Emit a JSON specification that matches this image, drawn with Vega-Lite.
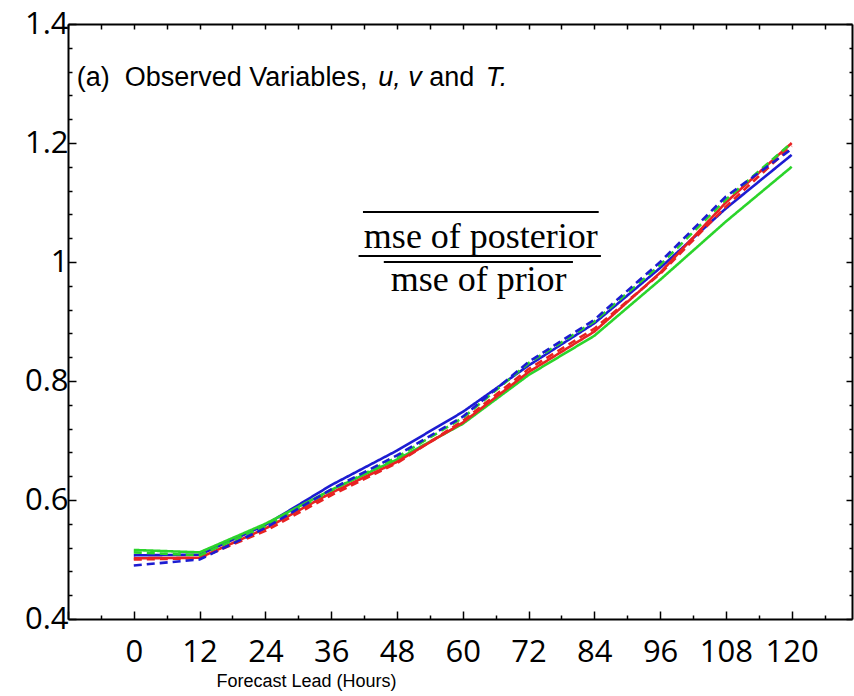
{
  "$schema": "https://vega.github.io/schema/vega-lite/v6.json",
  "width": 784,
  "height": 595,
  "autosize": {"type": "none"},
  "padding": {"left": 68, "top": 24, "right": 2, "bottom": 77},
  "background": "white",
  "config": {
    "view": {"stroke": null},
    "axis": {
      "domainColor": "black",
      "domainWidth": 2,
      "tickColor": "black",
      "tickWidth": 1.5,
      "grid": false,
      "labelColor": "black",
      "labelFont": "Open Sans",
      "labelFontSize": 31,
      "titleFont": "Liberation Sans",
      "titleFontWeight": "normal",
      "titleColor": "black"
    }
  },
  "datasets": {
    "series": [
      {"lead": 0, "value": 0.507, "group": "1", "style": "solid"},
      {"lead": 12, "value": 0.508, "group": "1", "style": "solid"},
      {"lead": 24, "value": 0.558, "group": "1", "style": "solid"},
      {"lead": 36, "value": 0.625, "group": "1", "style": "solid"},
      {"lead": 48, "value": 0.683, "group": "1", "style": "solid"},
      {"lead": 60, "value": 0.748, "group": "1", "style": "solid"},
      {"lead": 72, "value": 0.826, "group": "1", "style": "solid"},
      {"lead": 84, "value": 0.897, "group": "1", "style": "solid"},
      {"lead": 96, "value": 0.99, "group": "1", "style": "solid"},
      {"lead": 108, "value": 1.09, "group": "1", "style": "solid"},
      {"lead": 120, "value": 1.18, "group": "1", "style": "solid"},
      {"lead": 0, "value": 0.516, "group": "2", "style": "solid"},
      {"lead": 12, "value": 0.512, "group": "2", "style": "solid"},
      {"lead": 24, "value": 0.56, "group": "2", "style": "solid"},
      {"lead": 36, "value": 0.617, "group": "2", "style": "solid"},
      {"lead": 48, "value": 0.668, "group": "2", "style": "solid"},
      {"lead": 60, "value": 0.728, "group": "2", "style": "solid"},
      {"lead": 72, "value": 0.81, "group": "2", "style": "solid"},
      {"lead": 84, "value": 0.876, "group": "2", "style": "solid"},
      {"lead": 96, "value": 0.97, "group": "2", "style": "solid"},
      {"lead": 108, "value": 1.068, "group": "2", "style": "solid"},
      {"lead": 120, "value": 1.16, "group": "2", "style": "solid"},
      {"lead": 0, "value": 0.502, "group": "3", "style": "solid"},
      {"lead": 12, "value": 0.503, "group": "3", "style": "solid"},
      {"lead": 24, "value": 0.552, "group": "3", "style": "solid"},
      {"lead": 36, "value": 0.612, "group": "3", "style": "solid"},
      {"lead": 48, "value": 0.664, "group": "3", "style": "solid"},
      {"lead": 60, "value": 0.73, "group": "3", "style": "solid"},
      {"lead": 72, "value": 0.815, "group": "3", "style": "solid"},
      {"lead": 84, "value": 0.883, "group": "3", "style": "solid"},
      {"lead": 96, "value": 0.982, "group": "3", "style": "solid"},
      {"lead": 108, "value": 1.1, "group": "3", "style": "solid"},
      {"lead": 120, "value": 1.2, "group": "3", "style": "solid"},
      {"lead": 0, "value": 0.5, "group": "3", "style": "dashed"},
      {"lead": 12, "value": 0.502, "group": "3", "style": "dashed"},
      {"lead": 24, "value": 0.548, "group": "3", "style": "dashed"},
      {"lead": 36, "value": 0.608, "group": "3", "style": "dashed"},
      {"lead": 48, "value": 0.662, "group": "3", "style": "dashed"},
      {"lead": 60, "value": 0.733, "group": "3", "style": "dashed"},
      {"lead": 72, "value": 0.82, "group": "3", "style": "dashed"},
      {"lead": 84, "value": 0.888, "group": "3", "style": "dashed"},
      {"lead": 96, "value": 0.98, "group": "3", "style": "dashed"},
      {"lead": 108, "value": 1.093, "group": "3", "style": "dashed"},
      {"lead": 120, "value": 1.195, "group": "3", "style": "dashed"},
      {"lead": 0, "value": 0.512, "group": "2", "style": "dashed"},
      {"lead": 12, "value": 0.507, "group": "2", "style": "dashed"},
      {"lead": 24, "value": 0.556, "group": "2", "style": "dashed"},
      {"lead": 36, "value": 0.616, "group": "2", "style": "dashed"},
      {"lead": 48, "value": 0.672, "group": "2", "style": "dashed"},
      {"lead": 60, "value": 0.738, "group": "2", "style": "dashed"},
      {"lead": 72, "value": 0.83, "group": "2", "style": "dashed"},
      {"lead": 84, "value": 0.9, "group": "2", "style": "dashed"},
      {"lead": 96, "value": 0.995, "group": "2", "style": "dashed"},
      {"lead": 108, "value": 1.105, "group": "2", "style": "dashed"},
      {"lead": 120, "value": 1.2, "group": "2", "style": "dashed"},
      {"lead": 0, "value": 0.49, "group": "1", "style": "dashed"},
      {"lead": 12, "value": 0.5, "group": "1", "style": "dashed"},
      {"lead": 24, "value": 0.553, "group": "1", "style": "dashed"},
      {"lead": 36, "value": 0.618, "group": "1", "style": "dashed"},
      {"lead": 48, "value": 0.675, "group": "1", "style": "dashed"},
      {"lead": 60, "value": 0.74, "group": "1", "style": "dashed"},
      {"lead": 72, "value": 0.832, "group": "1", "style": "dashed"},
      {"lead": 84, "value": 0.903, "group": "1", "style": "dashed"},
      {"lead": 96, "value": 1.0, "group": "1", "style": "dashed"},
      {"lead": 108, "value": 1.11, "group": "1", "style": "dashed"},
      {"lead": 120, "value": 1.19, "group": "1", "style": "dashed"}
    ],
    "bars": [
      {"x": 41.8, "x2": 84.8, "y": 1.084},
      {"x": 41.0, "x2": 85.2, "y": 1.01},
      {"x": 45.6, "x2": 80.1, "y": 1.0}
    ],
    "fraction": [
      {"t": "mse of posterior", "x": 63.3, "y": 1.0235},
      {"t": "mse of prior", "x": 62.9, "y": 0.952}
    ],
    "heading": [
      {"t": "(a)\u00a0\u00a0Observed Variables,", "x": -10.4, "y": 1.296, "italic": false},
      {"t": "u, v", "x": 44.6, "y": 1.296, "italic": true},
      {"t": "and", "x": 53.9, "y": 1.296, "italic": false},
      {"t": "T.", "x": 64.2, "y": 1.296, "italic": true}
    ]
  },
  "layer": [
    {
      "data": {"name": "series"},
      "mark": {"type": "line", "strokeWidth": 2.6},
      "encoding": {
        "x": {
          "field": "lead", "type": "quantitative",
          "scale": {"domain": [-12, 131], "nice": false, "zero": false},
          "axis": {
            "orient": "bottom",
            "values": [-12, -6, 0, 6, 12, 18, 24, 30, 36, 42, 48, 54, 60, 66, 72, 78, 84, 90, 96, 102, 108, 114, 120, 126],
            "labelExpr": "datum.value >= 0 && datum.value <= 120 && datum.value % 12 === 0 ? datum.label : ''",
            "tickSize": {"condition": {"test": "datum.value % 12 === 0", "value": -8}, "value": -4},
            "labelPadding": 26,
            "labelFlush": false,
            "labelOverlap": false,
            "title": "Forecast Lead (Hours)",
            "titleFontSize": 18,
            "titleX": 238,
            "titleY": 62,
            "titleAnchor": null,
            "titleAlign": "center",
            "titleBaseline": "middle"
          }
        },
        "y": {
          "field": "value", "type": "quantitative",
          "scale": {"domain": [0.4, 1.4], "nice": false, "zero": false},
          "axis": {
            "orient": "left",
            "values": [0.4, 0.44, 0.48, 0.52, 0.56, 0.6, 0.64, 0.68, 0.72, 0.76, 0.8, 0.84, 0.88, 0.92, 0.96, 1, 1.04, 1.08, 1.12, 1.16, 1.2, 1.24, 1.28, 1.32, 1.36, 1.4],
            "format": "~g",
            "labelExpr": "round(datum.value * 100) % 20 === 0 ? datum.label : ''",
            "tickSize": {"condition": {"test": "round(datum.value * 100) % 20 === 0", "value": -8}, "value": -4},
            "labelPadding": 8,
            "labelFlush": false,
            "labelOverlap": false,
            "title": null
          }
        },
        "color": {
          "field": "group", "type": "nominal",
          "scale": {"domain": ["1", "2", "3"], "range": ["#1c1cd2", "#2bd42b", "#e82222"]},
          "legend": null
        },
        "strokeDash": {
          "field": "style", "type": "nominal",
          "scale": {"domain": ["solid", "dashed"], "range": [[1, 0], [8, 5]]},
          "legend": null
        },
        "detail": {"field": "style"}
      }
    },
    {
      "data": {"name": "bars"},
      "mark": {"type": "rule", "color": "black", "strokeWidth": 2},
      "encoding": {
        "x": {
          "field": "x", "type": "quantitative",
          "axis": {
            "orient": "top",
            "values": [-12, -6, 0, 6, 12, 18, 24, 30, 36, 42, 48, 54, 60, 66, 72, 78, 84, 90, 96, 102, 108, 114, 120, 126],
            "labels": false,
            "tickSize": -5,
            "title": null
          }
        },
        "x2": {"field": "x2"},
        "y": {
          "field": "y", "type": "quantitative",
          "axis": {
            "orient": "right",
            "values": [0.4, 0.44, 0.48, 0.52, 0.56, 0.6, 0.64, 0.68, 0.72, 0.76, 0.8, 0.84, 0.88, 0.92, 0.96, 1, 1.04, 1.08, 1.12, 1.16, 1.2, 1.24, 1.28, 1.32, 1.36, 1.4],
            "labels": false,
            "tickSize": {"condition": {"test": "round(datum.value * 100) % 20 === 0", "value": -6}, "value": -3},
            "title": null
          }
        }
      }
    },
    {
      "data": {"name": "fraction"},
      "mark": {"type": "text", "font": "Liberation Serif", "fontSize": 36, "align": "center", "baseline": "alphabetic", "color": "black"},
      "encoding": {
        "x": {"field": "x", "type": "quantitative", "axis": null},
        "y": {"field": "y", "type": "quantitative", "axis": null},
        "text": {"field": "t"}
      }
    },
    {
      "data": {"name": "heading"},
      "transform": [{"filter": "!datum.italic"}],
      "mark": {"type": "text", "font": "Liberation Sans", "fontSize": 27, "align": "left", "baseline": "alphabetic", "color": "black"},
      "encoding": {
        "x": {"field": "x", "type": "quantitative", "axis": null},
        "y": {"field": "y", "type": "quantitative", "axis": null},
        "text": {"field": "t"}
      }
    },
    {
      "data": {"name": "heading"},
      "transform": [{"filter": "datum.italic"}],
      "mark": {"type": "text", "font": "Liberation Sans", "fontSize": 27, "fontStyle": "italic", "align": "left", "baseline": "alphabetic", "color": "black"},
      "encoding": {
        "x": {"field": "x", "type": "quantitative", "axis": null},
        "y": {"field": "y", "type": "quantitative", "axis": null},
        "text": {"field": "t"}
      }
    }
  ],
  "resolve": {"axis": {"x": "independent", "y": "independent"}}
}
